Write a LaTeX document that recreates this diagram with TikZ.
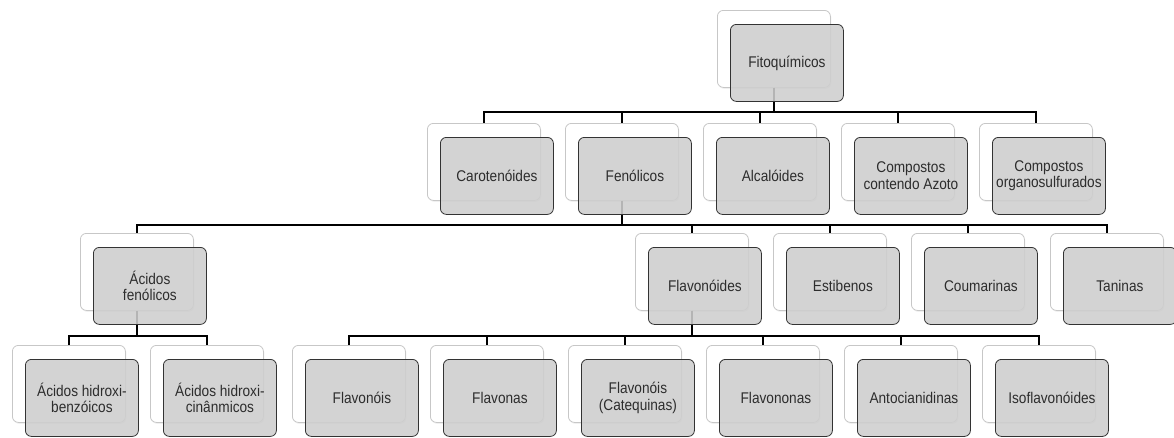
\documentclass[tikz,border=0pt]{standalone}
\usepackage{fontspec}
\setmainfont{Liberation Sans}[FakeStretch=0.88]
\usetikzlibrary{shadows,calc}
\definecolor{boxgray}{RGB}{206,206,206}
\definecolor{textgray}{RGB}{45,45,45}
\begin{document}
\begin{tikzpicture}[x=1pt,y=-1pt,
  back/.style={draw=black!22, fill=white, rounded corners=6pt, minimum width=113pt,
    minimum height=77pt, anchor=north west, inner sep=0pt, line width=0.8pt,
    drop shadow={shadow xshift=1pt, shadow yshift=-1.5pt, opacity=0.12}},
  front/.style={draw=black!80, fill=boxgray, fill opacity=0.88, text opacity=1,
    rounded corners=6pt, minimum width=113pt, minimum height=77pt, anchor=north west,
    inner sep=1pt, line width=0.8pt, text=textgray, align=center,
    font=\fontsize{15.5}{16.5}\selectfont},
  conn/.style={draw=black, line width=2.6pt}]
\useasboundingbox (0,0) rectangle (1174,437);
% back boxes
\node[back] (fito-b) at (717,10) {};
\node[back] (caro-b) at (427,123) {};
\node[back] (feno-b) at (565,123) {};
\node[back] (alca-b) at (703,123) {};
\node[back] (azot-b) at (841,123) {};
\node[back] (orga-b) at (979,123) {};
\node[back] (acid-b) at (80,233) {};
\node[back] (flav-b) at (635,233) {};
\node[back] (esti-b) at (773,233) {};
\node[back] (coum-b) at (911,233) {};
\node[back] (tani-b) at (1050,233) {};
\node[back] (benz-b) at (12,345) {};
\node[back] (cina-b) at (150,345) {};
\node[back] (fols-b) at (292,345) {};
\node[back] (fnas-b) at (430,345) {};
\node[back] (cate-b) at (568,345) {};
\node[back] (fnon-b) at (706,345) {};
\node[back] (anto-b) at (844,345) {};
\node[back] (isof-b) at (982,345) {};
% bar levels
\coordinate (bar0) at (0,112);
\coordinate (bar1) at (0,225);
\coordinate (bar2) at (0,336);
% connectors
\foreach \c in {caro,feno,alca,azot,orga}
  \draw[conn] (fito-b.south) -- (fito-b.south |- bar0) -| (\c-b.north);
\foreach \c in {acid,flav,esti,coum,tani}
  \draw[conn] (feno-b.south) -- (feno-b.south |- bar1) -| (\c-b.north);
\foreach \c in {benz,cina}
  \draw[conn] (acid-b.south) -- (acid-b.south |- bar2) -| (\c-b.north);
\foreach \c in {fols,fnas,cate,fnon,anto,isof}
  \draw[conn] (flav-b.south) -- (flav-b.south |- bar2) -| (\c-b.north);
% front boxes
\node[front] (fito) at ([shift={(13,14)}]fito-b.north west) {Fitoquímicos};
\node[front] (caro) at ([shift={(13,14)}]caro-b.north west) {Carotenóides};
\node[front] (feno) at ([shift={(13,14)}]feno-b.north west) {Fenólicos};
\node[front] (alca) at ([shift={(13,14)}]alca-b.north west) {Alcalóides};
\node[front] (azot) at ([shift={(13,14)}]azot-b.north west) {Compostos\\contendo Azoto};
\node[front] (orga) at ([shift={(13,14)}]orga-b.north west) {Compostos\\organosulfurados};
\node[front] (acid) at ([shift={(13,14)}]acid-b.north west) {Ácidos\\fenólicos};
\node[front] (flav) at ([shift={(13,14)}]flav-b.north west) {Flavonóides};
\node[front] (esti) at ([shift={(13,14)}]esti-b.north west) {Estibenos};
\node[front] (coum) at ([shift={(13,14)}]coum-b.north west) {Coumarinas};
\node[front] (tani) at ([shift={(13,14)}]tani-b.north west) {Taninas};
\node[front] (benz) at ([shift={(13,14)}]benz-b.north west) {Ácidos hidroxi-\\benzóicos};
\node[front] (cina) at ([shift={(13,14)}]cina-b.north west) {Ácidos hidroxi-\\cinânmicos};
\node[front] (fols) at ([shift={(13,14)}]fols-b.north west) {Flavonóis};
\node[front] (fnas) at ([shift={(13,14)}]fnas-b.north west) {Flavonas};
\node[front] (cate) at ([shift={(13,14)}]cate-b.north west) {Flavonóis\\(Catequinas)};
\node[front] (fnon) at ([shift={(13,14)}]fnon-b.north west) {Flavononas};
\node[front] (anto) at ([shift={(13,14)}]anto-b.north west) {Antocianidinas};
\node[front] (isof) at ([shift={(13,14)}]isof-b.north west) {Isoflavonóides};
\end{tikzpicture}
\end{document}
